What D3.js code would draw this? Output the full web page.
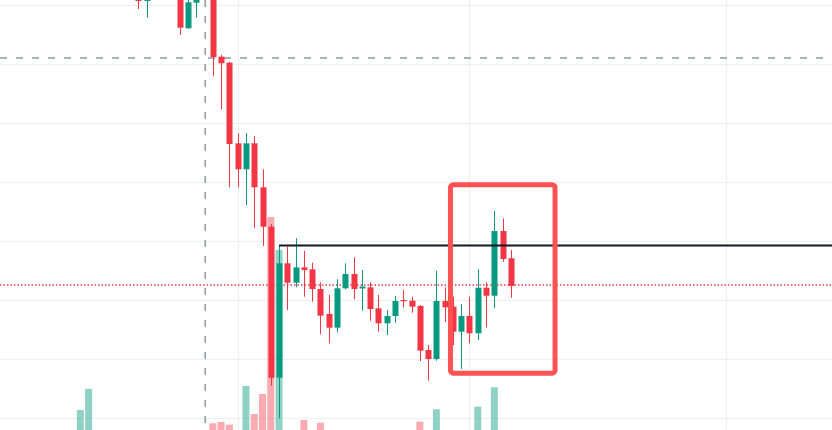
<!DOCTYPE html>
<html>
<head>
<meta charset="utf-8">
<script src="https://cdn.jsdelivr.net/npm/d3@7"></script>
<style>
  html, body { margin: 0; padding: 0; background: #ffffff; }
  svg { display: block; }
</style>
</head>
<body>
<svg id="chart" width="832" height="430"></svg>
<script>
// ---------- DATA ----------
const candleIndex = d3.range(0, 46);
const opens  = [71.36,70.68,null,null,null,72.54,66.05,70.39,null,74.24,61.24,60.22,46.56,42.15,46.56,39.10,32.42,6.83,26.22,22.93,25.53,25.20,21.86,17.63,15.31,21.98,24.41,21.95,22.15,18.59,16.05,17.29,20.00,19.88,18.98,11.53,10.00,19.83,18.87,14.63,17.29,14.36,22.08,20.73,31.69,27.07];
const highs  = [71.86,71.86,null,null,null,72.90,71.19,71.86,null,74.50,61.53,60.34,48.27,48.27,47.80,42.15,32.88,29.21,29.03,30.46,28.35,26.32,23.00,20.85,23.51,26.22,27.24,25.08,23.00,20.85,18.30,20.68,21.69,20.56,19.15,12.37,24.96,22.15,20.56,19.32,20.56,25.20,23.00,35.08,33.85,28.47];
const lows   = [69.32,67.85,null,null,null,64.92,65.98,67.85,null,57.97,52.37,39.10,39.10,36.10,32.15,29.15,5.47,-0.05,18.30,22.15,20.56,19.71,14.19,12.66,14.46,21.81,20.12,18.19,16.49,14.63,14.07,16.15,18.76,17.85,9.66,6.32,9.71,16.27,12.37,8.31,12.66,13.22,15.37,18.59,26.49,20.39];
const closes = [70.68,71.36,null,null,null,66.15,70.46,71.36,null,61.19,60.12,46.44,42.15,46.56,39.10,32.42,6.83,26.22,22.93,25.53,25.08,21.86,17.34,15.31,21.98,24.41,21.86,22.29,18.47,16.05,17.29,19.83,19.78,18.87,11.41,10.00,19.83,18.76,14.63,17.29,14.36,22.08,20.73,31.69,26.95,22.37];

const volumeIndex  = [-7,-6,9,10,11,13,14,15,16,17,20,22,34,36,41,43];
const volumeValues = [200,410,67,80,53,440,160,360,2130,1800,100,73,83,207,233,427];
const volumeDir    = ["up","up","down","down","down","up","down","down","down","up","down","down","down","up","up","up"];

const priceTicks = [0,10,20,30,40,50,60,70];
const timeGridIndex = [12,40,71];

const dashedGrayPrice = 61.02;
const dashedTimeIndex = 8.08;
const blackLinePrice = 29.24;
const blackLineStartIndex = 17;
const redDottedPrice = 22.46;

const boxIndexRange = [37.7, 50.33];
const boxPriceRange = [39.54, 7.6];

// ---------- SETUP ----------
const W = 832, H = 430;
const svg = d3.select("#chart");

const x = d3.scaleLinear().domain([0, 45]).range([138.3, 510.9]);
const y = d3.scaleLinear().domain([0, 70]).range([418, 5]);
const yVol = d3.scaleLinear().domain([0, 2500]).range([430, 180]);

const UP = "#089981", DOWN = "#f23645";
const UP_VOL = "rgba(8,153,129,0.45)", DOWN_VOL = "rgba(242,54,69,0.42)";

// grid
const grid = svg.append("g");
grid.selectAll("line.h").data(priceTicks).enter().append("line")
  .attr("x1", 0).attr("x2", W)
  .attr("y1", d => Math.round(y(d)) + 0.5).attr("y2", d => Math.round(y(d)) + 0.5)
  .attr("stroke", "#eeeff2").attr("stroke-width", 1);
grid.selectAll("line.v").data(timeGridIndex).enter().append("line")
  .attr("x1", d => Math.round(x(d)) + 0.5).attr("x2", d => Math.round(x(d)) + 0.5)
  .attr("y1", 0).attr("y2", H)
  .attr("stroke", "#eeeff2").attr("stroke-width", 1);

// volume
const volData = volumeIndex.map((i, k) => ({ i, v: volumeValues[k], dir: volumeDir[k] }));
svg.append("g").selectAll("rect").data(volData).enter().append("rect")
  .attr("x", d => x(d.i) - 3.5).attr("width", 7)
  .attr("y", d => yVol(d.v)).attr("height", d => yVol(0) - yVol(d.v))
  .attr("fill", d => d.dir === "up" ? UP_VOL : DOWN_VOL);

// crosshair dashed lines
svg.append("line")
  .attr("x1", 0).attr("x2", W)
  .attr("y1", y(dashedGrayPrice)).attr("y2", y(dashedGrayPrice))
  .attr("stroke", "#9598a1").attr("stroke-width", 1.5)
  .attr("stroke-dasharray", "7,9");
svg.append("line")
  .attr("x1", x(dashedTimeIndex)).attr("x2", x(dashedTimeIndex))
  .attr("y1", 0).attr("y2", H)
  .attr("stroke", "#9598a1").attr("stroke-width", 1.5)
  .attr("stroke-dasharray", "7,9");

// red dotted line
svg.append("line")
  .attr("x1", 0).attr("x2", W)
  .attr("y1", Math.round(y(redDottedPrice))).attr("y2", Math.round(y(redDottedPrice)))
  .attr("stroke", "#f23645").attr("stroke-width", 1.6)
  .attr("stroke-dasharray", "1.5,2");

// candles
const candles = candleIndex.map(i => ({ i, o: opens[i], h: highs[i], l: lows[i], c: closes[i] }))
  .filter(d => d.o !== null);
const cg = svg.append("g").selectAll("g").data(candles).enter().append("g");
cg.append("line")
  .attr("x1", d => Math.round(x(d.i)) + 0.5).attr("x2", d => Math.round(x(d.i)) + 0.5)
  .attr("y1", d => y(d.h)).attr("y2", d => y(d.l))
  .attr("stroke", d => d.c >= d.o ? UP : DOWN).attr("stroke-width", 1);
cg.append("rect")
  .attr("x", d => Math.round(x(d.i)) - 2.5).attr("width", 6)
  .attr("y", d => y(Math.max(d.o, d.c)))
  .attr("height", d => Math.max(1, Math.abs(y(d.o) - y(d.c))))
  .attr("fill", d => d.c >= d.o ? UP : DOWN);

// black horizontal line
svg.append("line")
  .attr("x1", x(blackLineStartIndex)).attr("x2", W)
  .attr("y1", y(blackLinePrice)).attr("y2", y(blackLinePrice))
  .attr("stroke", "#131722").attr("stroke-width", 2);

// red highlight box
svg.append("rect")
  .attr("x", x(boxIndexRange[0])).attr("y", y(boxPriceRange[0]))
  .attr("width", x(boxIndexRange[1]) - x(boxIndexRange[0]))
  .attr("height", y(boxPriceRange[1]) - y(boxPriceRange[0]))
  .attr("rx", 3).attr("ry", 3)
  .attr("fill", "none").attr("stroke", "#fd5252").attr("stroke-width", 5);
</script>
</body>
</html>
